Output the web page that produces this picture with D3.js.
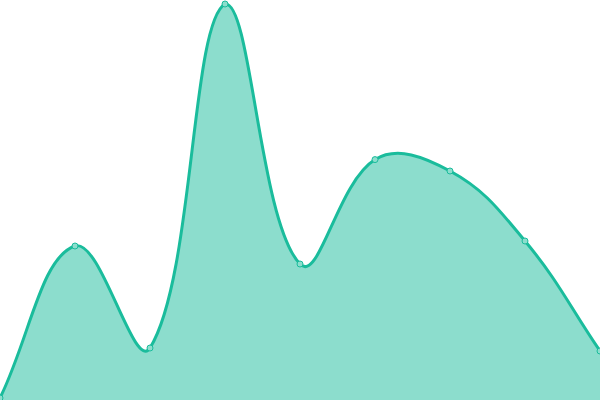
<!DOCTYPE html>
<html>
<head>
<meta charset="utf-8">
<script src="https://cdn.jsdelivr.net/npm/d3@7"></script>
<style>
  html, body { margin: 0; padding: 0; background: #fff; }
  svg { display: block; }
</style>
</head>
<body>
<script>
// chart data
var labels = ["1", "2", "3", "4", "5", "6", "7", "8", "9"];
var values = [0.5, 38.5, 13, 99, 34, 60.1, 57.25, 39.75, 12.25];

var width = 600,
    height = 400;

var lineColor = "#1abc9c",
    fillColor = "rgba(26,188,156,0.5)",
    pointFill = "#8cdecd";

var svg = d3.select("body").append("svg")
    .attr("width", width)
    .attr("height", height);

var x = d3.scalePoint().domain(labels).range([0, width]);
var y = d3.scaleLinear().domain([0, 100]).range([height, 0]);

// spline like the one the original chart uses (tension 0.4, capped to the area)
function tensionSpline(tension, area) {
    return function(context) {
        return {
            areaStart: function() { this._line = 0; },
            areaEnd: function() { this._line = NaN; },
            lineStart: function() { this._pts = []; },
            point: function(px, py) { this._pts.push([+px, +py]); },
            lineEnd: function() {
                var p = this._pts, n = p.length;
                if (n) {
                    var cps = p.map(function(cur, i) {
                        var prev = p[i - 1] || cur, next = p[i + 1] || cur;
                        var d01 = Math.hypot(cur[0] - prev[0], cur[1] - prev[1]),
                            d12 = Math.hypot(next[0] - cur[0], next[1] - cur[1]);
                        var s01 = d01 / (d01 + d12), s12 = d12 / (d01 + d12);
                        if (isNaN(s01)) s01 = 0;
                        if (isNaN(s12)) s12 = 0;
                        var fa = tension * s01, fb = tension * s12;
                        var dx = next[0] - prev[0], dy = next[1] - prev[1];
                        var cap = function(c) {
                            return [Math.max(area[0], Math.min(area[2], c[0])),
                                    Math.max(area[1], Math.min(area[3], c[1]))];
                        };
                        return {
                            before: cap([cur[0] - fa * dx, cur[1] - fa * dy]),
                            after: cap([cur[0] + fb * dx, cur[1] + fb * dy])
                        };
                    });
                    if (this._line) context.lineTo(p[0][0], p[0][1]);
                    else context.moveTo(p[0][0], p[0][1]);
                    for (var i = 1; i < n; i++) {
                        var a = cps[i - 1].after, b = cps[i].before;
                        context.bezierCurveTo(a[0], a[1], b[0], b[1], p[i][0], p[i][1]);
                    }
                }
                if (this._line || (this._line !== 0 && n === 1)) context.closePath();
                this._line = 1 - this._line;
            }
        };
    };
}

var curve = tensionSpline(0.4, [0, 0, width, height]);

var area = d3.area()
    .x(function(d, i) { return x(labels[i]); })
    .y0(height)
    .y1(function(d) { return y(d); })
    .curve(curve);

var line = d3.line()
    .x(function(d, i) { return x(labels[i]); })
    .y(function(d) { return y(d); })
    .curve(curve);

svg.append("path")
    .datum(values)
    .attr("d", area)
    .style("fill", fillColor);

svg.append("path")
    .datum(values)
    .attr("d", line)
    .style("fill", "none")
    .style("stroke", lineColor)
    .style("stroke-width", 3);

svg.selectAll("circle")
    .data(values)
    .enter().append("circle")
    .attr("cx", function(d, i) { return x(labels[i]); })
    .attr("cy", function(d) { return y(d); })
    .attr("r", 3)
    .style("fill", pointFill)
    .style("stroke", lineColor)
    .style("stroke-width", 1);
</script>
</body>
</html>
